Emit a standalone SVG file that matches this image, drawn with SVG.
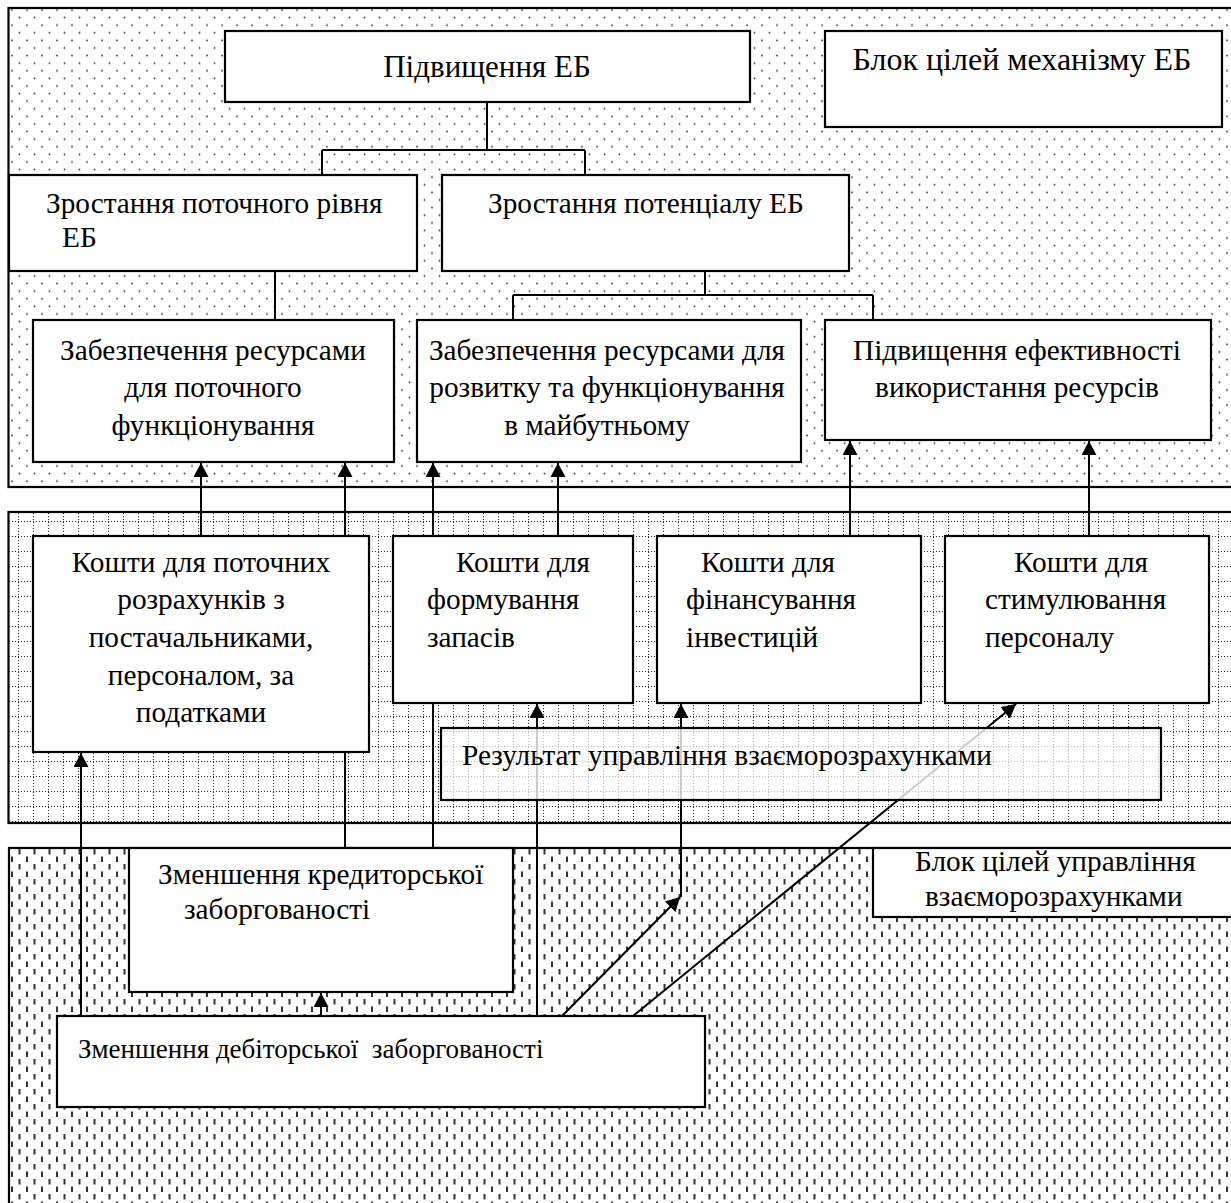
<svg xmlns="http://www.w3.org/2000/svg" width="1231" height="1203" viewBox="0 0 1231 1203">
<style>
.blk{stroke:#000;stroke-width:2.2}
.box{fill:#fff;stroke:#000;stroke-width:2.2}
text{font-family:'Liberation Serif',serif;font-size:29.3px;fill:#000}
.m{text-anchor:middle}
.ln{fill:none;stroke:#000;stroke-width:2}
.ar{fill:none;stroke:#000;stroke-width:2;marker-end:url(#ah)}
</style>
<defs>
<pattern id="dots" width="15" height="15.2" patternUnits="userSpaceOnUse">
<rect width="15" height="15.2" fill="#fff"/>
<circle cx="12" cy="10" r="0.9" fill="#333"/>
<circle cx="4.5" cy="2.4" r="0.9" fill="#333"/>
</pattern>
<pattern id="grid" width="15" height="15" patternUnits="userSpaceOnUse">
<rect width="15" height="15" fill="#fff"/>
<line x1="3.5" y1="0" x2="3.5" y2="15" stroke="#222" stroke-width="1" stroke-dasharray="1 2"/>
<line x1="0" y1="11.5" x2="15" y2="11.5" stroke="#222" stroke-width="1" stroke-dasharray="1 2"/>
</pattern>
<pattern id="fgrid" width="15" height="15" patternUnits="userSpaceOnUse">
<line x1="3.5" y1="0" x2="3.5" y2="15" stroke="#bbb" stroke-width="1" stroke-dasharray="1 2"/>
<line x1="0" y1="11.5" x2="15" y2="11.5" stroke="#bbb" stroke-width="1" stroke-dasharray="1 2"/>
</pattern>
<pattern id="dash" width="15" height="15" patternUnits="userSpaceOnUse">
<rect width="15" height="15" fill="#fff"/>
<rect x="11" y="1.5" width="2" height="5.5" fill="#333"/>
<rect x="3.5" y="9" width="2" height="5.5" fill="#333"/>
</pattern>
<marker id="ah" viewBox="0 0 14 15" refX="14" refY="7.5" markerWidth="14" markerHeight="15" markerUnits="userSpaceOnUse" orient="auto">
<path d="M0,0 L14,7.5 L0,15 Z" fill="#000"/>
</marker>
</defs>

<g id="block-top"><rect class="blk" x="8.5" y="8" width="1240" height="479" fill="url(#dots)"/></g>
<g id="block-mid"><rect class="blk" x="8.5" y="512" width="1240" height="311" fill="url(#grid)"/></g>
<g id="block-bottom"><rect class="blk" x="9" y="848" width="1240" height="380" fill="url(#dash)"/></g>

<g id="n-pidvyshchennia-eb"><rect class="box" x="225" y="31" width="525" height="71"/><text class="m" x="487" y="77" style="font-size:31px">Підвищення ЕБ</text></g>
<g id="n-blok-mekhanizmu"><rect class="box" x="825" y="31" width="397" height="96"/><text class="m" x="1022" y="70" style="font-size:32px">Блок цілей механізму ЕБ</text></g>
<g id="n-zrostannia-potochnoho"><rect class="box" x="9" y="175" width="408" height="96"/><text x="46" y="213">Зростання поточного рівня</text><text x="62" y="247">ЕБ</text></g>
<g id="n-zrostannia-potentsialu"><rect class="box" x="442" y="175" width="407" height="96"/><text x="488" y="213">Зростання потенціалу ЕБ</text></g>
<g id="n-resursy-potochne"><rect class="box" x="33" y="320" width="361" height="142"/><text class="m" x="213" y="360">Забезпечення ресурсами</text><text class="m" x="213" y="397">для поточного</text><text class="m" x="213" y="435">функціонування</text></g>
<g id="n-resursy-rozvytok"><rect class="box" x="417" y="320" width="384" height="142"/><text class="m" x="607" y="360">Забезпечення ресурсами для</text><text class="m" x="607" y="397">розвитку та функціонування</text><text class="m" x="597" y="435">в майбутньому</text></g>
<g id="n-efektyvnist"><rect class="box" x="825" y="320" width="386" height="120"/><text class="m" x="1017" y="360">Підвищення ефективності</text><text class="m" x="1017" y="397">використання ресурсів</text></g>

<g id="n-koshty-rozrakhunky"><rect class="box" x="33" y="536" width="336" height="216"/><text class="m" x="201" y="572">Кошти для поточних</text><text class="m" x="201" y="609">розрахунків з</text><text class="m" x="201" y="647">постачальниками,</text><text class="m" x="201" y="685">персоналом, за</text><text class="m" x="201" y="722">податками</text></g>
<g id="n-koshty-zapasy"><rect class="box" x="393" y="536" width="240" height="167"/><text x="456" y="572">Кошти для</text><text x="427" y="609">формування</text><text x="427" y="647">запасів</text></g>
<g id="n-koshty-investytsii"><rect class="box" x="657" y="536" width="264" height="167"/><text x="701" y="572">Кошти для</text><text x="686" y="609">фінансування</text><text x="686" y="647">інвестицій</text></g>
<g id="n-koshty-personal"><rect class="box" x="945" y="536" width="264" height="167"/><text x="1014" y="572">Кошти для</text><text x="985" y="609">стимулювання</text><text x="985" y="647">персоналу</text></g>

<g id="n-kredytorska"><rect class="box" x="129" y="848" width="384" height="144"/><text x="158" y="884">Зменшення кредиторської</text><text x="184" y="919">заборгованості</text></g>
<g id="n-blok-vzaiemorozrakhunkiv"><rect class="box" x="873" y="848" width="380" height="69"/><text x="915" y="871">Блок цілей управління</text><text x="925" y="906">взаєморозрахунками</text></g>
<g id="n-debitorska"><rect class="box" x="57" y="1016" width="648" height="91"/><text x="78" y="1058" style="white-space:pre;font-size:27px">Зменшення дебіторської  заборгованості</text></g>

<g id="connectors">
<path class="ln" d="M487,102 V150 M322,150 H585 M322,150 V175 M585,150 V175"/>
<path class="ln" d="M275,271 V320"/>
<path class="ln" d="M705,271 V295 M513,295 H873 M513,295 V320 M873,295 V320"/>
<path class="ar" d="M201,536 V463"/>
<path class="ar" d="M345,536 V463"/>
<path class="ar" d="M433,536 V463"/>
<path class="ar" d="M558,536 V463"/>
<path class="ar" d="M850,536 V441"/>
<path class="ar" d="M1089,536 V441"/>
<path class="ar" d="M81,1016 V753"/>
<path class="ln" d="M345,752 V848"/>
<path class="ln" d="M433,703 V848"/>
<path class="ar" d="M537,1016 V704"/>
<path class="ar" d="M681,897 V704"/>
<path class="ar" d="M562,1016 L680,897"/>
<path class="ar" d="M633,1016 L1016,704"/>
<path class="ar" d="M321,1016 V993"/>
</g>

<g id="n-rezultat"><rect x="441" y="728" width="720" height="72" fill="#fff" fill-opacity="0.8" stroke="none"/><rect x="441" y="728" width="720" height="72" fill="url(#fgrid)" stroke="#000" stroke-width="2.2"/><text x="462" y="765">Результат управління взаєморозрахунками</text></g>
</svg>
